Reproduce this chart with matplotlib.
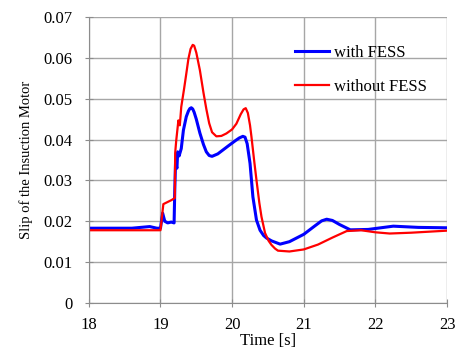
import matplotlib
matplotlib.use('Agg')
import matplotlib.pyplot as plt

# Data
t_with = [18.0, 18.6, 18.85, 18.95, 19.0, 19.03, 19.06, 19.1, 19.15, 19.19, 19.2, 19.21, 19.23,
          19.24, 19.26, 19.29, 19.32, 19.36, 19.39, 19.41, 19.43, 19.45, 19.47, 19.5, 19.55,
          19.6, 19.64, 19.68, 19.72, 19.8, 19.95, 20.05, 20.1, 20.15, 20.18, 20.21, 20.25, 20.29,
          20.34, 20.39, 20.44, 20.48, 20.55, 20.67, 20.8, 21.0, 21.15, 21.25, 21.32, 21.4, 21.5,
          21.65, 21.9, 22.25, 22.6, 23.0]
s_with = [0.0183, 0.0183, 0.0187, 0.0183, 0.0183, 0.0220, 0.0200, 0.0196, 0.0198, 0.0196, 0.0280,
          0.0342, 0.0330, 0.0370, 0.0360, 0.0378, 0.0423, 0.0456, 0.0470, 0.0476, 0.0478, 0.0475,
          0.0467, 0.0450, 0.0416, 0.0388, 0.0370, 0.0361, 0.0359, 0.0365, 0.0385, 0.0398, 0.0404,
          0.0408, 0.0406, 0.0390, 0.0342, 0.0260, 0.0203, 0.0178, 0.0165, 0.0159, 0.0152, 0.0144,
          0.0150, 0.0168, 0.0188, 0.0201, 0.0205, 0.0202, 0.0192, 0.0179, 0.0180, 0.0188, 0.0185,
          0.0184]

t_without = [18.0, 19.0, 19.04, 19.155, 19.2, 19.205, 19.22, 19.25, 19.27, 19.29, 19.33, 19.36,
             19.39, 19.42, 19.45, 19.47, 19.5, 19.55, 19.6, 19.64, 19.68, 19.72, 19.78, 19.85,
             19.92, 20.0, 20.06, 20.12, 20.16, 20.19, 20.22, 20.25, 20.27, 20.31, 20.34, 20.38,
             20.41, 20.46, 20.51, 20.55, 20.6, 20.64, 20.8, 21.0, 21.2, 21.4, 21.6, 21.8, 22.0,
             22.2, 22.5, 23.0]
s_without = [0.0178, 0.0178, 0.0242, 0.0252, 0.0257, 0.0367, 0.0398, 0.0447, 0.0435, 0.0480,
             0.0525, 0.0561, 0.0598, 0.0622, 0.0632, 0.0630, 0.0613, 0.0570, 0.0515, 0.0475,
             0.0440, 0.0418, 0.0408, 0.0409, 0.0415, 0.0425, 0.0439, 0.0462, 0.0474, 0.0477,
             0.0465, 0.0435, 0.0407, 0.0345, 0.0301, 0.0245, 0.0211, 0.0171, 0.0152, 0.0142,
             0.0133, 0.0128, 0.0126, 0.0131, 0.0143, 0.0160, 0.0176, 0.0178, 0.0173, 0.0170,
             0.0172, 0.0177]

plt.rcParams['font.family'] = 'Liberation Serif'
plt.rcParams['font.size'] = 12

fig = plt.figure(figsize=(4.58, 3.49), dpi=100)
ax = fig.add_axes([0.194, 0.132, 0.782, 0.819])

ax.plot(t_with, s_with, color='#0000ff', linewidth=2.2, label='with FESS')
ax.plot(t_without, s_without, color='#ff0000', linewidth=1.6, label='without FESS')

ax.set_xlim(18, 23)
ax.set_ylim(0, 0.07)
ax.set_xticks([18, 19, 20, 21, 22, 23])
ax.set_yticks([0, 0.01, 0.02, 0.03, 0.04, 0.05, 0.06, 0.07])
ax.set_yticklabels(['0', '0.01', '0.02', '0.03', '0.04', '0.05', '0.06', '0.07'])
ax.grid(True, color='#a6a6a6', linewidth=1)
ax.set_axisbelow(True)
for side in ['top', 'right']:
    ax.spines[side].set_visible(False)
for side in ['left', 'bottom']:
    ax.spines[side].set_color('#8c8c8c')
ax.tick_params(direction='inout', length=6, color='#8c8c8c')
ax.tick_params(axis='x', pad=7)
ax.tick_params(axis='y', pad=9)

ax.set_xlabel('Time [s]', labelpad=0)
ax.set_ylabel('Slip of the Insuction Motor', fontsize=10.5, labelpad=7)

ax.legend(loc='upper right', bbox_to_anchor=(0.986, 0.955), frameon=False,
          handlelength=2.05, labelspacing=1.1, handletextpad=0.3)

fig.savefig('out.png', dpi=100)
